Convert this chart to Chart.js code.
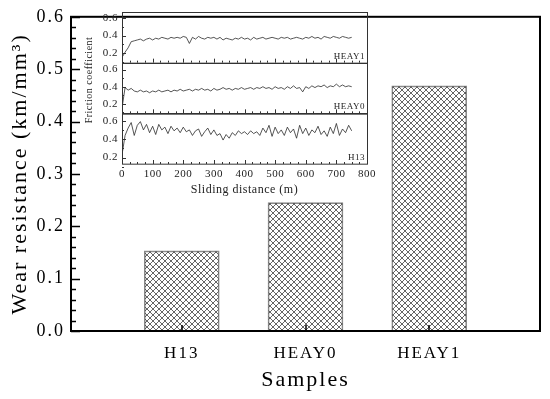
<!DOCTYPE html>
<html>
<head>
<meta charset="utf-8">
<script src="https://cdn.jsdelivr.net/npm/chart.js@4.4.1/dist/chart.umd.min.js"></script>
<style>
    html, body { margin: 0; padding: 0; background: #fff; }
    #wrap { position: relative; width: 550px; height: 399px; }
    #main { position: absolute; left: 0; top: 0; }
    #inset { position: absolute; left: 80px; top: 0; }
</style>
</head>
<body>
<div id="wrap">
    <canvas id="main" width="550" height="399"></canvas>
    <canvas id="inset" width="300" height="200"></canvas>
</div>
<script>
// main bars
const samples = ['H13', 'HEAY0', 'HEAY1'];
const samplePos = [1, 2, 3];
const wearResistance = [0.153, 0.245, 0.468];
const wearTicks = [0, 0.1, 0.2, 0.3, 0.4, 0.5, 0.6];

// inset: friction coefficient vs sliding distance (m)
const panelNames = ['HEAY1', 'HEAY0', 'H13'];
const frictionTicks = [0.2, 0.4, 0.6];
const distanceTicks = [0, 100, 200, 300, 400, 500, 600, 700, 800];
const distance = [
    0, 10, 20, 30, 40, 50, 60, 70, 80, 90,
    100, 110, 120, 130, 140, 150, 160, 170, 180, 190,
    200, 210, 220, 230, 240, 250, 260, 270, 280, 290,
    300, 310, 320, 330, 340, 350, 360, 370, 380, 390,
    400, 410, 420, 430, 440, 450, 460, 470, 480, 490,
    500, 510, 520, 530, 540, 550, 560, 570, 580, 590,
    600, 610, 620, 630, 640, 650, 660, 670, 680, 690,
    700, 710, 720, 730, 740, 750,
];
const frictionHEAY1 = [
    0.15, 0.21, 0.26, 0.33, 0.34, 0.35, 0.36, 0.34, 0.36, 0.37,
    0.35, 0.37, 0.36, 0.38, 0.37, 0.36, 0.38, 0.37, 0.38, 0.37,
    0.39, 0.38, 0.31, 0.38, 0.36, 0.39, 0.37, 0.36, 0.38, 0.37,
    0.38, 0.36, 0.38, 0.35, 0.37, 0.36, 0.35, 0.37, 0.36, 0.38,
    0.36, 0.37, 0.35, 0.38, 0.36, 0.37, 0.38, 0.36, 0.37, 0.38,
    0.37, 0.36, 0.38, 0.37, 0.38, 0.36, 0.37, 0.38, 0.37, 0.36,
    0.38, 0.37, 0.39, 0.37, 0.38, 0.36, 0.39, 0.38, 0.37, 0.39,
    0.38, 0.37, 0.39, 0.38, 0.37, 0.38,
];
const frictionHEAY0 = [
    0.15, 0.39, 0.36, 0.38, 0.35, 0.34, 0.36, 0.34, 0.35, 0.33,
    0.35, 0.34, 0.36, 0.34, 0.35, 0.36, 0.34, 0.36, 0.35, 0.37,
    0.35, 0.36, 0.37, 0.35, 0.37, 0.36, 0.38, 0.36, 0.37, 0.35,
    0.38, 0.36, 0.37, 0.39, 0.37, 0.38, 0.36, 0.38, 0.37, 0.39,
    0.37, 0.38, 0.39, 0.37, 0.39, 0.38, 0.40, 0.38, 0.39, 0.37,
    0.40, 0.38, 0.39, 0.37, 0.40, 0.38, 0.41, 0.38, 0.39, 0.34,
    0.40, 0.38, 0.41, 0.39, 0.41, 0.40, 0.42, 0.39, 0.41, 0.40,
    0.43, 0.40, 0.42, 0.40, 0.41, 0.40,
];
const frictionH13 = [
    0.23, 0.44, 0.52, 0.58, 0.44, 0.55, 0.59, 0.50, 0.56, 0.47,
    0.54, 0.45, 0.56, 0.50, 0.53, 0.46, 0.54, 0.49, 0.52, 0.47,
    0.53, 0.48, 0.50, 0.44, 0.49, 0.51, 0.43, 0.48, 0.52, 0.45,
    0.50, 0.44, 0.46, 0.39, 0.45, 0.41, 0.47, 0.44, 0.49, 0.46,
    0.48, 0.45, 0.49, 0.46, 0.48, 0.44, 0.52, 0.47, 0.55, 0.43,
    0.53, 0.46, 0.50, 0.44, 0.53, 0.47, 0.51, 0.41, 0.55, 0.46,
    0.52, 0.44, 0.50, 0.47, 0.54, 0.45, 0.49, 0.43, 0.53, 0.46,
    0.57, 0.44, 0.51, 0.47, 0.55, 0.49,
];

const SERIF = '"Liberation Serif", "Times New Roman", serif';
Chart.defaults.font.family = SERIF;
Chart.defaults.color = '#000';

function hatchPattern() {
    const c = document.createElement('canvas');
    c.width = 6;
    c.height = 6;
    const g = c.getContext('2d');
    g.strokeStyle = '#333';
    g.lineWidth = 0.75;
    g.beginPath();
    g.moveTo(-1, -1);
    g.lineTo(7, 7);
    g.moveTo(-1, 7);
    g.lineTo(7, -1);
    g.stroke();
    return g.createPattern(c, 'repeat');
}

const mainFrame = {
    id: 'mainFrame',
    beforeUpdate(chart) {
        chart.ctx.letterSpacing = '2px';
    },
    beforeDraw(chart) {
        chart.ctx.letterSpacing = '2px';
    },
    afterDraw(chart) {
        const { ctx, chartArea: a, scales: { x, y } } = chart;
        ctx.save();
        ctx.strokeStyle = '#000';
        ctx.lineWidth = 1.5;
        ctx.beginPath();
        // inward ticks, minor every 0.02
        for (let i = 0; i <= 30; i++) {
            const py = Math.round(y.getPixelForValue(i * 0.02)) + 0.5;
            const len = i % 5 === 0 ? 9 : 5;
            ctx.moveTo(a.left, py);
            ctx.lineTo(a.left + len, py);
        }
        samplePos.forEach((v) => {
            const px = Math.round(x.getPixelForValue(v));
            ctx.moveTo(px, a.bottom);
            ctx.lineTo(px, a.bottom - 6);
        });
        ctx.stroke();
        ctx.lineWidth = 2;
        ctx.strokeRect(a.left, a.top, a.right - a.left, a.bottom - a.top);
        ctx.restore();
    },
};

new Chart(document.getElementById('main'), {
    type: 'bar',
    data: {
        datasets: [
            {
                data: samplePos.map((p, i) => ({ x: p, y: wearResistance[i] })),
                backgroundColor: hatchPattern(),
                borderColor: '#8a8a8a',
                borderWidth: 1,
                barThickness: 75,
            },
        ],
    },
    options: {
        responsive: false,
        animation: false,
        events: [],
        layout: { padding: { top: 12, right: 10, left: 0, bottom: 0 } },
        plugins: { legend: { display: false }, tooltip: { enabled: false } },
        scales: {
            x: {
                type: 'linear',
                min: 0.105,
                max: 3.895,
                offset: false,
                grid: { display: false, drawTicks: false },
                border: { display: false },
                afterBuildTicks: (s) => { s.ticks = samplePos.map((v) => ({ value: v })); },
                afterFit: (s) => { s.height = 68; },
                ticks: {
                    autoSkip: false,
                    maxRotation: 0,
                    padding: 12,
                    font: { size: 17 },
                    callback: (v) => samples[samplePos.indexOf(v)],
                },
                title: {
                    display: true,
                    text: 'Samples',
                    font: { size: 22 },
                    padding: { top: 0, bottom: 6 },
                },
            },
            y: {
                min: 0,
                max: 0.6,
                grid: { display: false, drawTicks: false },
                border: { display: false },
                afterBuildTicks: (s) => { s.ticks = wearTicks.map((v) => ({ value: v })); },
                afterFit: (s) => { s.width = 71; },
                ticks: {
                    autoSkip: false,
                    padding: 6,
                    font: { size: 18 },
                    callback: (v) => v.toFixed(1),
                },
                title: {
                    display: true,
                    text: 'Wear resistance (km/mm³)',
                    font: { size: 22 },
                    padding: { top: 7, bottom: 0 },
                },
            },
        },
    },
    plugins: [mainFrame],
});

const panelAxes = ['fA', 'fB', 'fC'];

const insetFrame = {
    id: 'insetFrame',
    beforeUpdate(chart) {
        chart.ctx.letterSpacing = '0.5px';
    },
    beforeDraw(chart) {
        chart.ctx.letterSpacing = '0.5px';
    },
    afterDraw(chart) {
        const { ctx, chartArea: a, scales } = chart;
        const x = scales.x;
        ctx.save();
        ctx.strokeStyle = '#333';
        ctx.lineWidth = 1;
        ctx.fillStyle = '#222';
        ctx.font = `9px ${SERIF}`;
        ctx.textAlign = 'right';
        ctx.textBaseline = 'alphabetic';
        panelAxes.forEach((id, k) => {
            const s = scales[id];
            ctx.strokeRect(a.left + 0.5, Math.round(s.top) + 0.5, a.right - a.left, s.bottom - s.top);
            ctx.beginPath();
            for (let i = 1; i <= 6; i++) {
                const py = Math.round(s.getPixelForValue(i * 0.1)) + 0.5;
                ctx.moveTo(a.left, py);
                ctx.lineTo(a.left + (i % 2 === 0 ? 4 : 2), py);
            }
            for (let i = 0; i <= 32; i++) {
                const px = Math.round(x.getPixelForValue(i * 25)) + 0.5;
                ctx.moveTo(px, s.bottom);
                ctx.lineTo(px, s.bottom - (i % 4 === 0 ? 4 : 2));
            }
            ctx.stroke();
            ctx.fillText(panelNames[k], a.right - 2, s.bottom - 4);
        });
        ctx.font = `10px ${SERIF}`;
        ctx.textAlign = 'center';
        ctx.textBaseline = 'middle';
        ctx.translate(9, 80);
        ctx.rotate(-Math.PI / 2);
        ctx.fillText('Friction coefficient', 0, 0);
        ctx.restore();
    },
};

function panelAxis(min, max) {
    return {
        type: 'linear',
        position: 'left',
        stack: 'friction',
        stackWeight: 1,
        min,
        max,
        grid: { display: false, drawTicks: false },
        border: { display: false },
        afterBuildTicks: (s) => { s.ticks = frictionTicks.map((v) => ({ value: v })); },
        afterFit: (s) => { s.width = 42; },
        ticks: {
            autoSkip: false,
            padding: 4,
            color: '#222',
            font: { size: 11 },
            callback: (v) => v.toFixed(1),
        },
    };
}

function trace(data, axis) {
    return {
        data: distance.map((d, i) => ({ x: d, y: data[i] })),
        yAxisID: axis,
        borderColor: '#2b2b2b',
        borderWidth: 0.8,
        pointRadius: 0,
        tension: 0,
    };
}

new Chart(document.getElementById('inset'), {
    type: 'line',
    data: {
        datasets: [
            trace(frictionHEAY1, 'fA'),
            trace(frictionHEAY0, 'fB'),
            trace(frictionH13, 'fC'),
        ],
    },
    options: {
        responsive: false,
        animation: false,
        events: [],
        layout: { padding: { top: 12, right: 12, left: 0, bottom: 0 } },
        plugins: { legend: { display: false }, tooltip: { enabled: false } },
        scales: {
            x: {
                type: 'linear',
                min: 0,
                max: 800,
                grid: { display: false, drawTicks: false },
                border: { display: false },
                afterBuildTicks: (s) => { s.ticks = distanceTicks.map((v) => ({ value: v })); },
                afterFit: (s) => { s.height = 36; },
                ticks: {
                    autoSkip: false,
                    maxRotation: 0,
                    padding: 4,
                    color: '#222',
                    font: { size: 11 },
                },
                title: {
                    display: true,
                    text: 'Sliding distance (m)',
                    color: '#222',
                    font: { size: 12 },
                    padding: { top: 0, bottom: 3 },
                },
            },
            fC: panelAxis(0.13, 0.68),
            fB: panelAxis(0.09, 0.68),
            fA: panelAxis(0.09, 0.67),
        },
    },
    plugins: [insetFrame],
});
</script>
</body>
</html>
